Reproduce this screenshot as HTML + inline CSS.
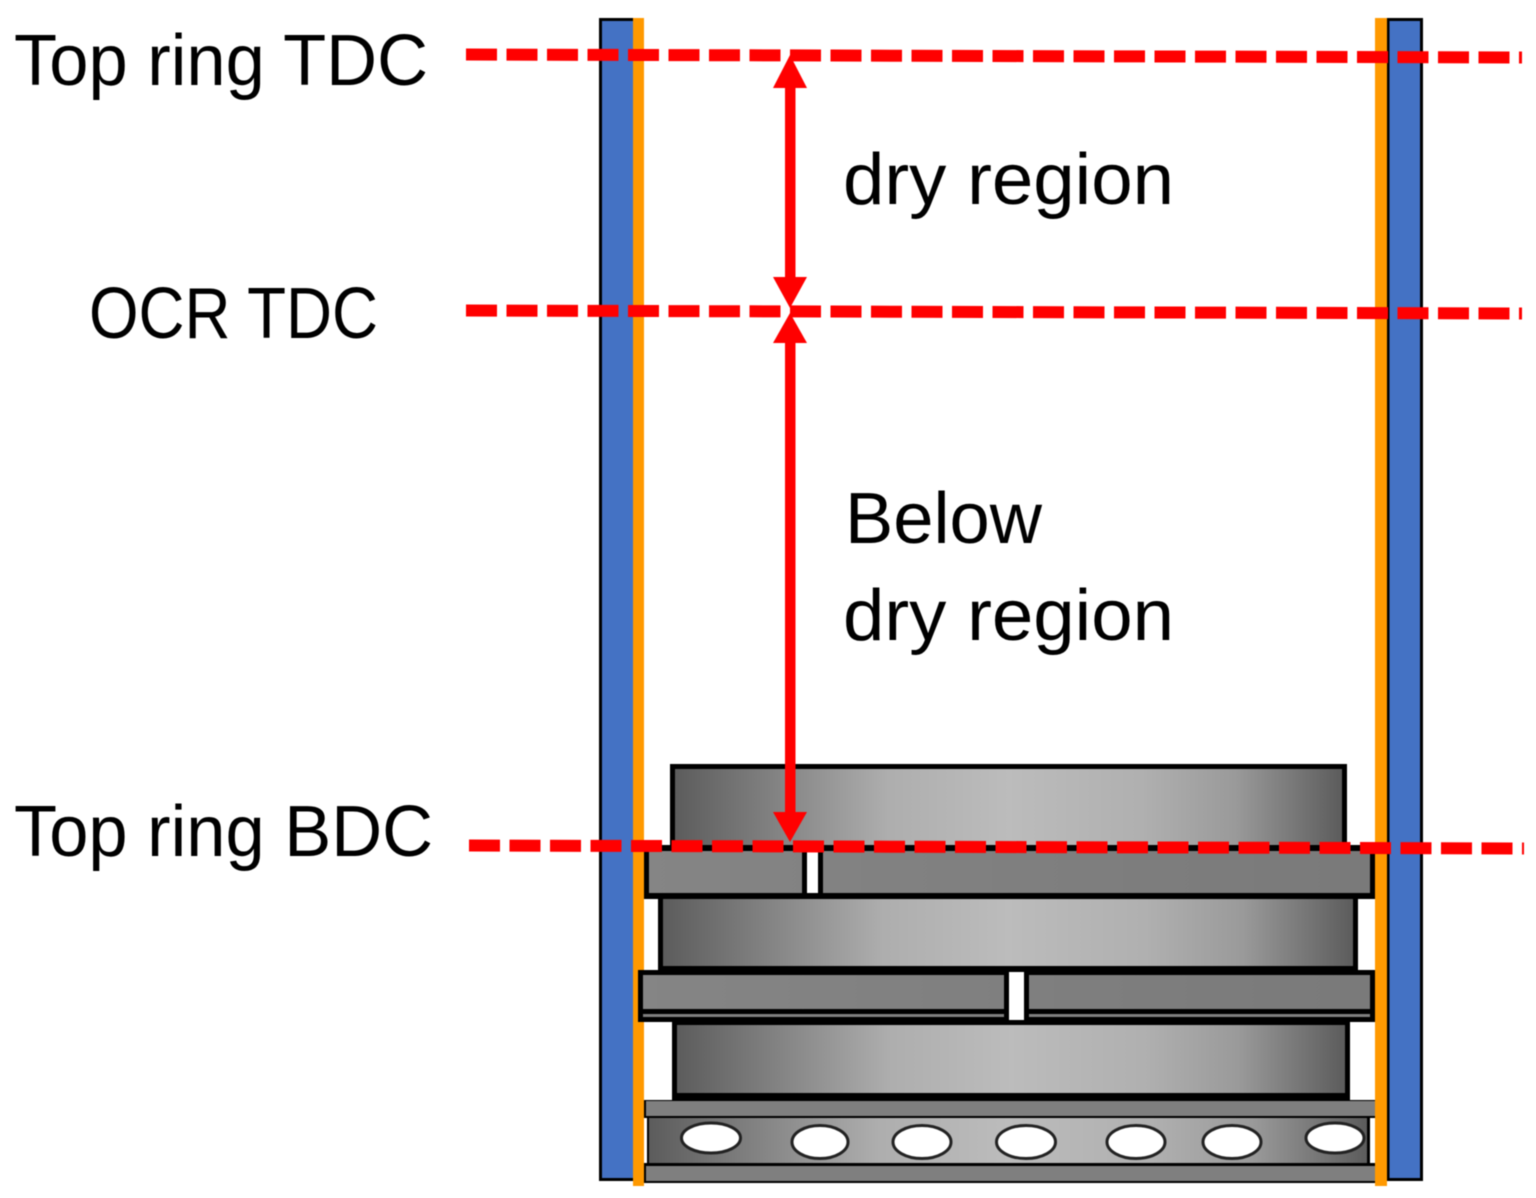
<!DOCTYPE html>
<html>
<head>
<meta charset="utf-8">
<style>
html,body{margin:0;padding:0;background:#fff}
svg{display:block;filter:blur(.4px)}
text{font-family:"Liberation Sans",sans-serif;font-size:72px;fill:#000}
</style>
</head>
<body>
<svg width="1536" height="1198" viewBox="0 0 1536 1198" xmlns="http://www.w3.org/2000/svg">
<defs>
<linearGradient id="g"><stop offset="0" stop-color="#5c5c5c"/><stop offset=".32" stop-color="#aeaeae"/><stop offset=".5" stop-color="#bcbcbc"/><stop offset=".7" stop-color="#b0b0b0"/><stop offset=".84" stop-color="#9a9a9a"/><stop offset="1" stop-color="#5c5c5c"/></linearGradient>
<linearGradient id="r"><stop offset="0" stop-color="#858585"/><stop offset="1" stop-color="#7a7a7a"/></linearGradient>
</defs>
<rect x="600.500" y="19.500" width="36" height="1160" fill="#4472c4" stroke="#000" stroke-width="3"/>
<rect x="1388" y="19.500" width="33.500" height="1160" fill="#4472c4" stroke="#000" stroke-width="3"/>
<rect x="633" y="18" width="11" height="1168" fill="#ff9900"/>

<!-- piston lands -->
<rect x="670" y="764" width="677" height="90" fill="#000"/>
<rect x="675" y="769" width="667" height="85" fill="url(#g)"/>
<rect x="658" y="893" width="700" height="80" fill="#000"/>
<rect x="663" y="899" width="690" height="67" fill="url(#g)"/>
<rect x="672" y="1017" width="678" height="84" fill="#000"/>
<rect x="677" y="1025" width="668" height="68" fill="url(#g)"/>

<!-- top ring -->
<rect x="644" y="845" width="731" height="54" fill="#000"/>
<rect x="649" y="851" width="721" height="42" fill="url(#r)"/>
<rect x="802" y="849" width="21" height="46" fill="#000"/>
<rect x="807" y="851" width="11" height="42" fill="#fff"/>

<!-- second ring -->
<rect x="638" y="970" width="737" height="52" fill="#000"/>
<rect x="643" y="975" width="727" height="34" fill="url(#r)"/>
<rect x="643" y="1014" width="727" height="3" fill="#7f7f7f"/>
<rect x="1004" y="968" width="25" height="55" fill="#000"/>
<rect x="1009" y="972" width="15" height="48" fill="#fff"/>

<!-- oil ring -->
<rect x="644" y="1100" width="731" height="83" fill="#000"/>
<rect x="644" y="1118" width="3" height="45" fill="#fff"/>
<rect x="1370" y="1118" width="5" height="45" fill="#fff"/>
<rect x="646" y="1101" width="729" height="15" fill="#7f7f7f"/>
<rect x="649" y="1118" width="718" height="45" fill="url(#g)"/>
<rect x="646" y="1166" width="729" height="15" fill="#7f7f7f"/>
<g fill="#fff" stroke="#222" stroke-width="3">
<ellipse cx="711" cy="1138" rx="29.500" ry="15"/>
<ellipse cx="820" cy="1142" rx="28" ry="16.500"/>
<ellipse cx="922" cy="1142" rx="29" ry="16.500"/>
<ellipse cx="1026" cy="1142" rx="29.500" ry="16.500"/>
<ellipse cx="1136" cy="1142" rx="29" ry="16.500"/>
<ellipse cx="1232" cy="1142" rx="29" ry="16.500"/>
<ellipse cx="1335" cy="1138" rx="29" ry="15"/>
</g>
<rect x="1375" y="18" width="12" height="1168" fill="#ff9900"/>

<g stroke="#ff0000" stroke-width="12" stroke-dasharray="31 9.500" fill="none">
<line x1="466" y1="54.500" x2="1522" y2="57.500"/>
<line x1="466" y1="310.500" x2="1522" y2="313.500"/>
<line x1="469" y1="845.500" x2="1524" y2="848.500"/>
</g>

<g fill="#ff0000">
<rect x="785" y="86" width="10.500" height="193"/>
<polygon points="790,55 807,88 773,88"/>
<polygon points="790,308 807,277 773,277"/>
<rect x="785" y="341" width="10.500" height="473"/>
<polygon points="790,313 807,343 773,343"/>
<polygon points="790,842 807,812 773,812"/>
</g>

<text x="14" y="85" textLength="414" lengthAdjust="spacingAndGlyphs">Top ring TDC</text>
<text x="89" y="338" textLength="289" lengthAdjust="spacingAndGlyphs">OCR TDC</text>
<text x="14" y="856" textLength="419" lengthAdjust="spacingAndGlyphs">Top ring BDC</text>
<text x="843" y="204" textLength="331" lengthAdjust="spacingAndGlyphs">dry region</text>
<text x="845" y="543" textLength="197" lengthAdjust="spacingAndGlyphs">Below</text>
<text x="843" y="640" textLength="331" lengthAdjust="spacingAndGlyphs">dry region</text>
</svg>
</body>
</html>
